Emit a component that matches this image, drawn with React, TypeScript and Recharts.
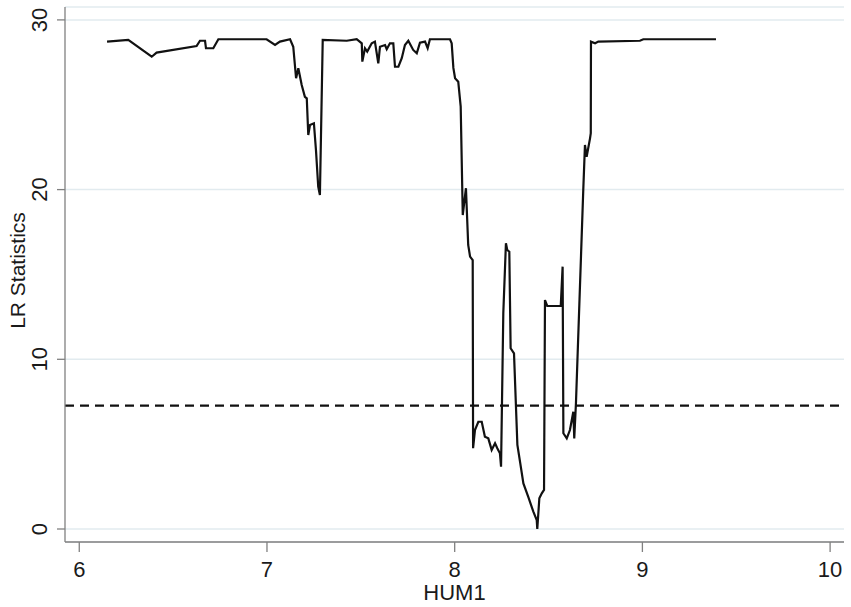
import { CartesianGrid, Line, LineChart, ReferenceLine, XAxis, YAxis } from "recharts";

const hum1 = [
  6.148, 6.261, 6.386, 6.412, 6.625, 6.643, 6.670, 6.675, 6.714, 6.741,
  6.998, 7.043, 7.069, 7.123, 7.140, 7.155, 7.167, 7.185, 7.202, 7.212,
  7.220, 7.229, 7.250, 7.261, 7.273, 7.282, 7.297, 7.425, 7.478, 7.505,
  7.508, 7.522, 7.534, 7.558, 7.575, 7.593, 7.602, 7.629, 7.638, 7.655,
  7.673, 7.682, 7.700, 7.718, 7.735, 7.753, 7.779, 7.798, 7.815, 7.842,
  7.856, 7.868, 7.975, 7.984, 7.993, 8.002, 8.019, 8.032, 8.043, 8.060,
  8.072, 8.082, 8.096, 8.098, 8.108, 8.126, 8.144, 8.161, 8.179, 8.197,
  8.215, 8.227, 8.241, 8.247, 8.259, 8.273, 8.280, 8.291, 8.298, 8.316,
  8.334, 8.348, 8.366, 8.392, 8.419, 8.437, 8.440, 8.451, 8.464, 8.476,
  8.481, 8.493, 8.565, 8.575, 8.579, 8.597, 8.614, 8.632, 8.637, 8.646,
  8.685, 8.694, 8.703, 8.721, 8.725, 8.726, 8.748, 8.765, 8.987, 9.005, 9.392,
];

const lrStat = [
  28.72, 28.82, 27.83, 28.07, 28.46, 28.77, 28.77, 28.33, 28.33, 28.86,
  28.86, 28.52, 28.72, 28.86, 28.42, 26.56, 27.15, 26.16, 25.47, 25.38,
  23.22, 23.81, 23.91, 22.33, 20.17, 19.68, 28.82, 28.77, 28.86, 28.62,
  27.54, 28.33, 28.13, 28.62, 28.72, 27.44, 28.42, 28.52, 28.27, 28.62,
  28.62, 27.24, 27.24, 27.74, 28.52, 28.77, 28.23, 28.03, 28.66, 28.72,
  28.33, 28.86, 28.86, 28.62, 27.17, 26.56, 26.36, 24.89, 18.50, 20.08,
  16.74, 16.05, 15.85, 4.76, 5.83, 6.32, 6.32, 5.44, 5.34, 4.66,
  5.05, 4.76, 4.46, 3.67, 12.71, 16.84, 16.44, 16.34, 10.65, 10.35,
  4.95, 3.97, 2.69, 1.90, 1.02, 0.53, 0.00, 1.81, 2.10, 2.30,
  13.49, 13.14, 13.14, 15.46, 5.64, 5.34, 5.83, 6.91, 5.34, 7.41,
  19.98, 22.63, 21.94, 23.02, 23.32, 28.72, 28.62, 28.72, 28.77, 28.86, 28.86,
];

const xTicks = [6, 7, 8, 9, 10];
const yTicks = [0, 10, 20, 30];
const criticalValue = 7.27;

const data = hum1.map((h, i) => ({ hum1: h, lr: lrStat[i] }));

const font = "'Liberation Sans', Arial, sans-serif";
const axisColor = "#808080";
const textColor = "#1a1a1a";

const XTick = (props: any) => {
  const { x, y, payload } = props;
  return (
    <text x={x} y={y + 25} textAnchor="middle" fontSize={22} fontFamily={font} fill={textColor}>
      {payload.value}
    </text>
  );
};

const YTick = (props: any) => {
  const { x, y, payload } = props;
  const bx = x - 10;
  return (
    <text x={bx} y={y} transform={`rotate(-90, ${bx}, ${y})`} textAnchor="middle" fontSize={22} fontFamily={font} fill={textColor}>
      {payload.value}
    </text>
  );
};

const YLabel = (props: any) => {
  const vb = props.viewBox;
  const cy = vb.y + vb.height / 2 - 4;
  return (
    <text x={25} y={cy} transform={`rotate(-90, 25, ${cy})`} textAnchor="middle" fontSize={21} fontFamily={font} fill={textColor}>
      LR Statistics
    </text>
  );
};

const XLabel = (props: any) => {
  const vb = props.viewBox;
  return (
    <text x={vb.x + vb.width / 2} y={600} textAnchor="middle" fontSize={22} fontFamily={font} fill={textColor}>
      HUM1
    </text>
  );
};

export default function App() {
  return (
    <div style={{ position: "absolute", left: 0, top: 0, background: "#fff" }}>
      <LineChart width={851} height={607} data={data} margin={{ top: 7, right: 7, bottom: 0, left: 0 }}>
        <CartesianGrid vertical={false} stroke="#e2ebef" strokeWidth={1.5} />
        <XAxis
          dataKey="hum1"
          type="number"
          domain={[5.924, 10.074]}
          ticks={xTicks}
          allowDataOverflow
          height={65}
          tickSize={10}
          tickMargin={0}
          stroke={axisColor}
          strokeWidth={1.3}
          tickLine={{ stroke: axisColor }}
          tick={<XTick />}
          label={<XLabel />}
        />
        <YAxis
          type="number"
          domain={[-0.766, 30.76]}
          ticks={yTicks}
          allowDataOverflow
          width={65}
          tickSize={8}
          tickMargin={0}
          stroke={axisColor}
          strokeWidth={1.3}
          tickLine={{ stroke: axisColor }}
          tick={<YTick />}
          label={<YLabel />}
        />
        <ReferenceLine y={criticalValue} stroke="#111" strokeWidth={2.2} strokeDasharray="9 6" />
        <Line
          type="linear"
          dataKey="lr"
          stroke="#111"
          strokeWidth={2.2}
          dot={false}
          isAnimationActive={false}
        />
      </LineChart>
    </div>
  );
}
